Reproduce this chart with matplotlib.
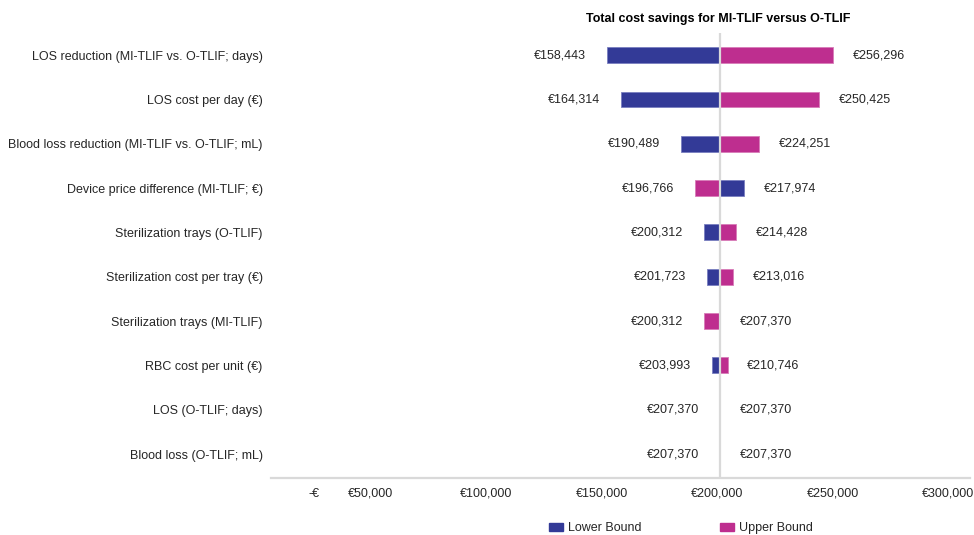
import numpy as np
import matplotlib; matplotlib.use('Agg')
import matplotlib.pyplot as plt
from matplotlib.patches import Patch

# --- data
params = [
    "LOS reduction (MI-TLIF vs. O-TLIF; days)",
    "LOS cost per day (\u20ac)",
    "Blood loss reduction (MI-TLIF vs. O-TLIF; mL)",
    "Device price difference (MI-TLIF; \u20ac)",
    "Sterilization trays (O-TLIF)",
    "Sterilization cost per tray (\u20ac)",
    "Sterilization trays (MI-TLIF)",
    "RBC cost per unit (\u20ac)",
    "LOS (O-TLIF; days)",
    "Blood loss (O-TLIF; mL)",
]
lower_bound = [158443, 164314, 190489, 217974, 200312, 201723, 207370, 203993, 207370, 207370]
upper_bound = [256296, 250425, 224251, 196766, 214428, 213016, 200312, 210746, 207370, 207370]
base_value = 207370

tick_vals = [0, 50000, 100000, 150000, 200000, 250000, 300000]
tick_labels = ["-\u20ac", "\u20ac50,000", "\u20ac100,000", "\u20ac150,000",
               "\u20ac200,000", "\u20ac250,000", "\u20ac300,000"]

# --- style
blue = '#333a97'
magenta = '#be2e8f'
grey_line = '#d9d9d9'
txt_col = '#262626'
plt.rcParams['font.family'] = ['Liberation Sans', 'DejaVu Sans']
plt.rcParams['font.size'] = 9

fig = plt.figure(figsize=(9.74, 5.35), dpi=100)
ax = fig.add_axes([0.2782, 0.1065, 0.7177, 0.8318])

y = np.arange(len(params))
low = np.array(lower_bound)
high = np.array(upper_bound)
bh = 0.36

ax.barh(y, low - base_value, left=base_value, height=bh, color=blue,
        edgecolor='#7a7fc0', linewidth=0.6, label='Lower Bound', zorder=2)
ax.barh(y, high - base_value, left=base_value, height=bh, color=magenta,
        edgecolor='#d77cb8', linewidth=0.6, label='Upper Bound', zorder=2)
ax.axvline(base_value, color=grey_line, lw=1.6, zorder=3)

# value labels at both ends
for i in range(len(params)):
    lo = min(low[i], high[i])
    hi = max(low[i], high[i])
    ax.annotate("\u20ac{:,}".format(lo), (lo, i), xytext=(-15, 0), textcoords='offset points',
                ha='right', va='center', color=txt_col)
    ax.annotate("\u20ac{:,}".format(hi), (hi, i), xytext=(14, 0), textcoords='offset points',
                ha='left', va='center', color=txt_col)

# axes range (same px scale as the bars in the original)
ax.set_xlim(12964, 315614)
ax.set_ylim(9.54, -0.5)

# excel puts the axis labels a bit off the bar scale
label_shift = 6075
tick_pos = [v + label_shift for v in tick_vals]
tick_pos[0] = 31584
ax.set_xticks(tick_pos)
ax.set_xticklabels(tick_labels, color=txt_col)
ax.set_yticks(y)
ax.set_yticklabels(params, color=txt_col)
ax.tick_params(axis='x', length=0, pad=7)
ax.tick_params(axis='y', length=0, pad=6)

for s in ['top', 'right', 'left']:
    ax.spines[s].set_visible(False)
ax.spines['bottom'].set_color(grey_line)
ax.spines['bottom'].set_linewidth(1.6)

fig.text(718 / 974, 1 - 19 / 535, "Total cost savings for MI-TLIF versus O-TLIF",
         ha='center', va='center', fontsize=9, fontweight='bold', color='black')

handles = [Patch(color=blue), Patch(color=magenta)]
fig.legend(handles, ['Lower Bound', 'Upper Bound'], loc='center', ncol=2,
           bbox_to_anchor=(681 / 974, 1 - 528 / 535), frameon=False,
           handlelength=1.1, handleheight=0.6, handletextpad=0.4,
           columnspacing=6.3, labelcolor=txt_col)

plt.savefig('out.png', dpi=100)
